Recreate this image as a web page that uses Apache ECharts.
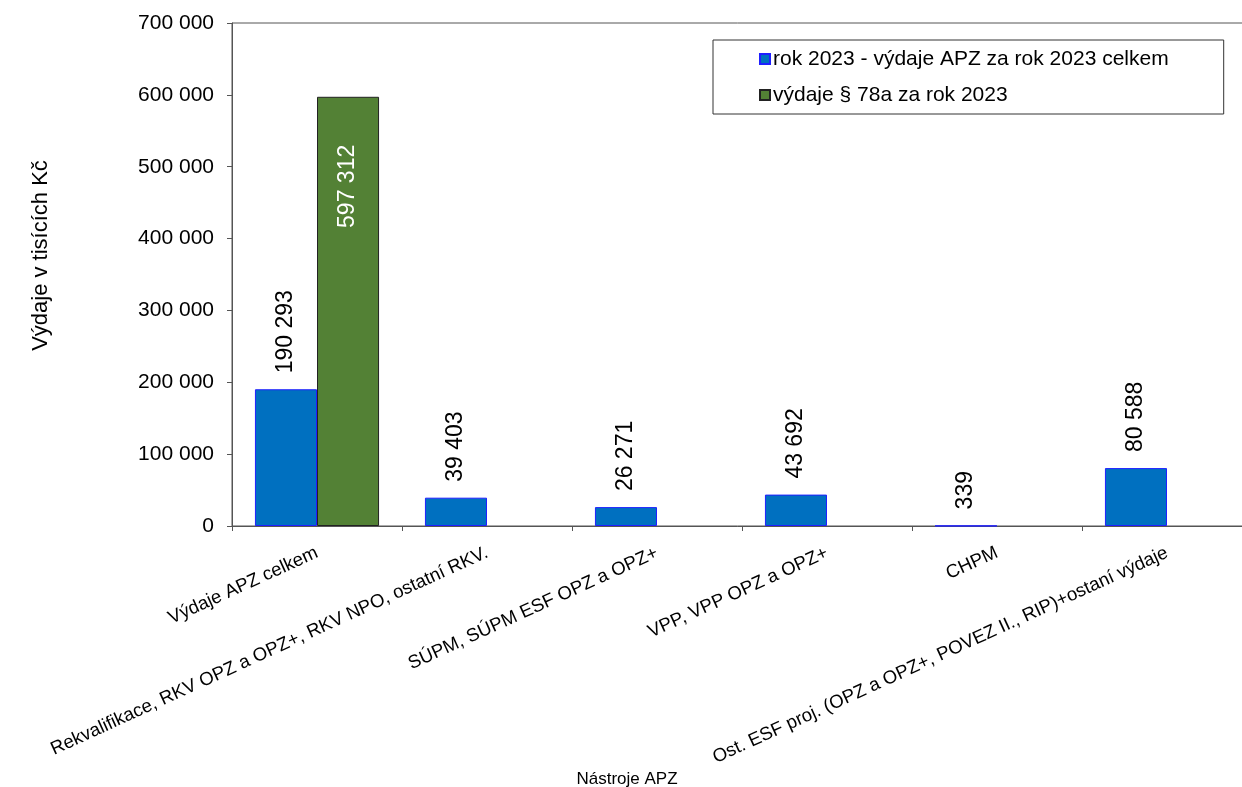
<!DOCTYPE html>
<html>
<head>
<meta charset="utf-8">
<script src="https://cdn.jsdelivr.net/npm/echarts@6/dist/echarts.min.js"></script>
<style>
html,body{margin:0;padding:0;background:#fff;}
#chart{width:1242px;height:787px;}
</style>
</head>
<body>
<div id="chart"></div>
<script>
const categories = [
  "Výdaje APZ celkem",
  "Rekvalifikace, RKV OPZ a OPZ+, RKV NPO, ostatní RKV.",
  "SÚPM, SÚPM ESF OPZ a OPZ+",
  "VPP, VPP OPZ a OPZ+",
  "CHPM",
  "Ost. ESF proj. (OPZ a OPZ+, POVEZ II., RIP)+ostaní výdaje"
];
const seriesNames = ["rok 2023 - výdaje APZ za rok 2023 celkem", "výdaje § 78a za rok 2023"];
const apzValues = [190293, 39403, 26271, 43692, 339, 80588];
const par78aValues = [597312, null, null, null, null, null];
const yTicks = { min: 0, max: 700000, interval: 100000 };
const yAxisTitle = "Výdaje v tisících Kč";
const xAxisTitle = "Nástroje APZ";

const FONT = "'Liberation Sans', Arial, sans-serif";
function fmt(v) {
  return String(Math.round(v)).replace(/\B(?=(\d{3})+(?!\d))/g, " ");
}

const chart = echarts.init(document.getElementById('chart'), null, { renderer: 'canvas' });
chart.setOption({
  animation: false,
  backgroundColor: '#ffffff',
  textStyle: { fontFamily: FONT },
  grid: {
    left: 232, top: 23, width: 1020, bottom: 261,
    outerBoundsMode: 'none',
    show: true, borderColor: '#555', borderWidth: 1, backgroundColor: 'transparent',
    containLabel: false
  },
  legend: {
    orient: 'vertical',
    left: 713, top: 40,
    padding: [8, 55, 8, 46],
    itemWidth: 10, itemHeight: 10, itemGap: 14,
    borderColor: '#333', borderWidth: 1,
    backgroundColor: '#fff',
    icon: 'rect',
    textStyle: { fontFamily: FONT, fontSize: 21, color: '#000', lineHeight: 22, padding: [0, 0, 0, -2] },
    data: seriesNames
  },
  xAxis: {
    type: 'category',
    data: categories,
    name: xAxisTitle,
    nameLocation: 'middle',
    nameGap: 245,
    nameMoveOverlap: false,
    nameTextStyle: { fontFamily: FONT, fontSize: 17, color: '#000', padding: [0, 230, 0, 0] },
    axisLine: { lineStyle: { color: '#555', width: 1 } },
    axisTick: { show: true, alignWithLabel: false, length: 5, lineStyle: { color: '#555' } },
    axisLabel: { interval: 0, rotate: 24.5, fontFamily: FONT, fontSize: 18.6, color: '#000', margin: 26 }
  },
  yAxis: {
    type: 'value',
    min: yTicks.min, max: yTicks.max, interval: yTicks.interval,
    name: yAxisTitle,
    nameLocation: 'middle',
    nameGap: 180,
    nameRotate: 90,
    nameTextStyle: { fontFamily: FONT, fontSize: 22, color: '#000', padding: [0, 0, 0, 38] },
    axisLine: { show: true, lineStyle: { color: '#555', width: 1 } },
    axisTick: { show: true, length: 5, lineStyle: { color: '#555' } },
    splitLine: { show: false },
    axisLabel: { fontFamily: FONT, fontSize: 21, color: '#000', margin: 18, formatter: fmt }
  },
  series: [
    {
      name: seriesNames[0],
      type: 'bar',
      data: apzValues,
      barGap: '0%',
      barCategoryGap: '27%',
      itemStyle: { color: '#0070C0', borderColor: '#1f1fff', borderWidth: 1 },
      label: {
        show: true, position: 'top', rotate: 90, distance: 16,
        align: 'left', verticalAlign: 'middle',
        fontFamily: FONT, fontSize: 23, color: '#000',
        formatter: p => fmt(p.value)
      }
    },
    {
      name: seriesNames[1],
      type: 'bar',
      data: par78aValues,
      barGap: '0%',
      barCategoryGap: '27%',
      itemStyle: { color: '#538135', borderColor: '#222', borderWidth: 1 },
      label: {
        show: true, position: 'insideTop', rotate: 90, distance: 48,
        align: 'right', verticalAlign: 'middle',
        fontFamily: FONT, fontSize: 23, color: '#fff',
        formatter: p => fmt(p.value)
      }
    }
  ]
});
</script>
</body>
</html>
